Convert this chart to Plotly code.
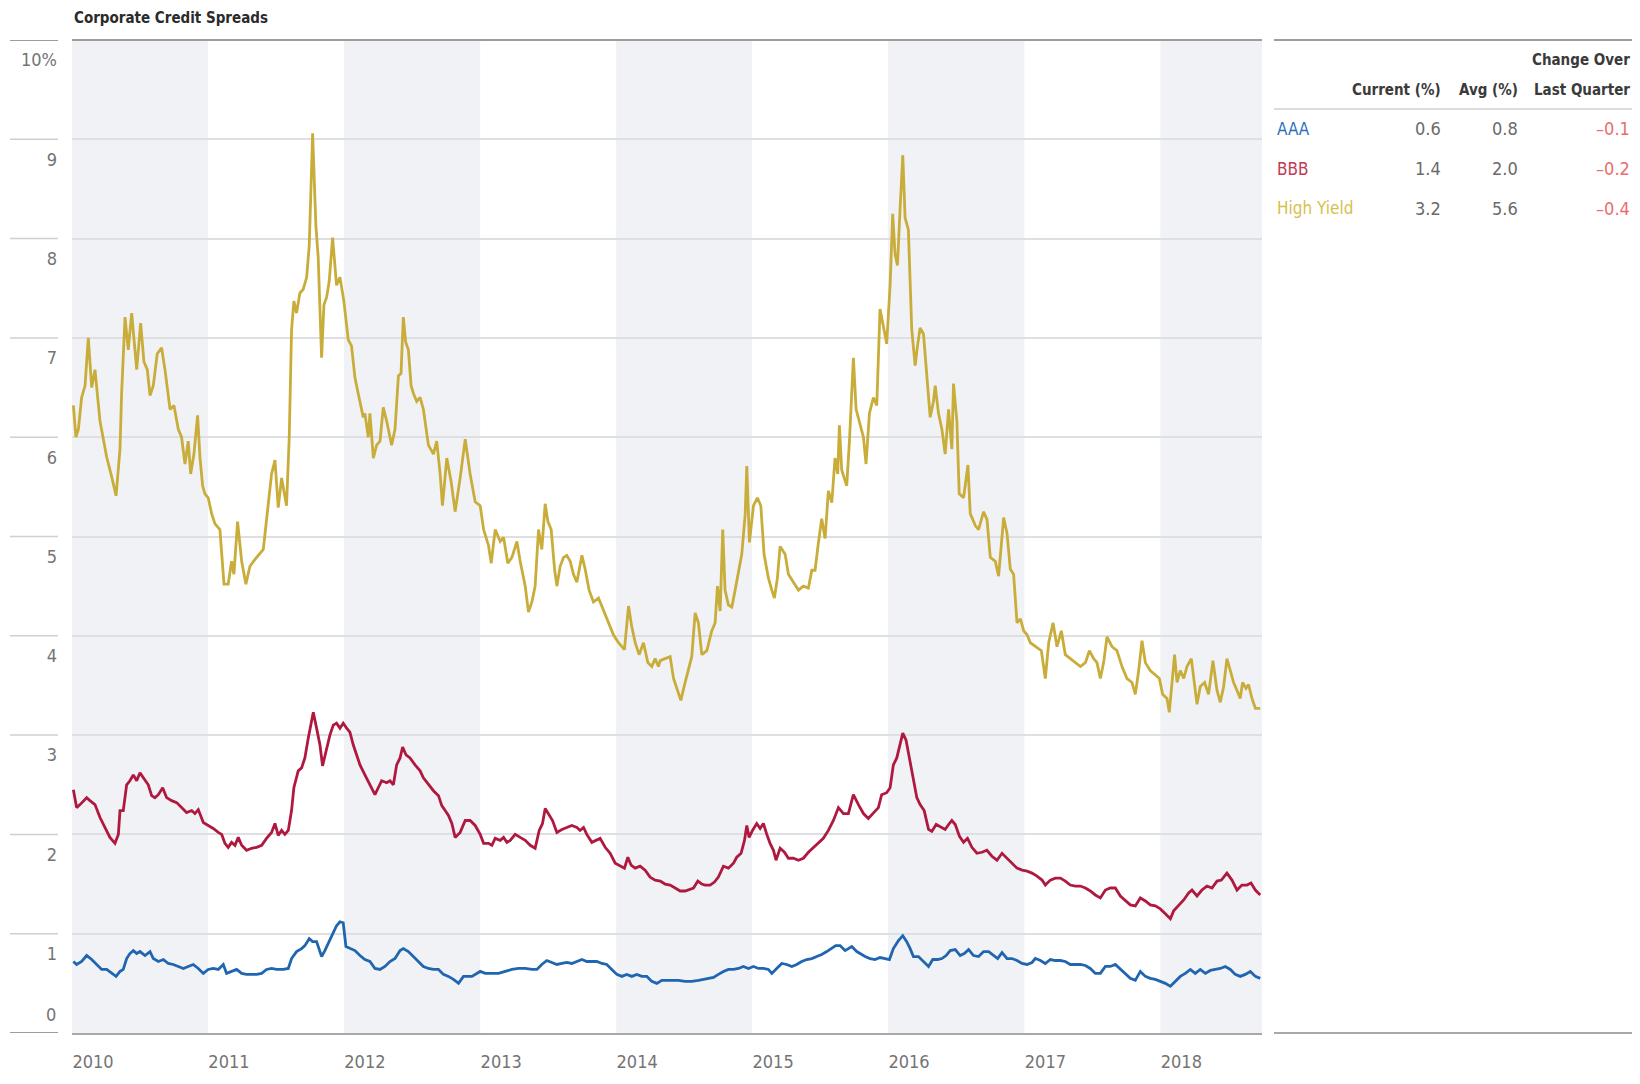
import pandas as pd
import plotly.graph_objects as go

# ---------------- data (decimal years, spread in %) ----------------
hy_years = [
    2010.010, 2010.029, 2010.047, 2010.071, 2010.096, 2010.120, 2010.145, 2010.169, 2010.206, 2010.230,
    2010.255, 2010.292, 2010.324, 2010.353, 2010.365, 2010.390, 2010.414, 2010.439, 2010.456, 2010.476,
    2010.505, 2010.529, 2010.554, 2010.574, 2010.598, 2010.627, 2010.659, 2010.684, 2010.721, 2010.750,
    2010.782, 2010.806, 2010.831, 2010.855, 2010.873, 2010.897, 2010.924, 2010.941, 2010.961, 2010.978,
    2011.002, 2011.027, 2011.051, 2011.088, 2011.118, 2011.149, 2011.174, 2011.191, 2011.218, 2011.248,
    2011.279, 2011.309, 2011.346, 2011.382, 2011.407, 2011.436, 2011.468, 2011.493, 2011.517, 2011.542,
    2011.578, 2011.598, 2011.615, 2011.632, 2011.652, 2011.676, 2011.701, 2011.726, 2011.745, 2011.770,
    2011.794, 2011.811, 2011.836, 2011.853, 2011.873, 2011.892, 2011.917, 2011.946, 2011.971, 2012.000,
    2012.032, 2012.056, 2012.081, 2012.105, 2012.142,
    2012.154, 2012.179, 2012.191, 2012.216, 2012.240, 2012.265, 2012.289, 2012.314, 2012.350, 2012.375,
    2012.400, 2012.419, 2012.436, 2012.453, 2012.473, 2012.493, 2012.510, 2012.534, 2012.559, 2012.583,
    2012.620, 2012.657, 2012.681, 2012.706, 2012.723, 2012.755, 2012.787, 2012.816, 2012.853, 2012.890,
    2012.926, 2012.963, 2013.000, 2013.025, 2013.061, 2013.081, 2013.110, 2013.147, 2013.172, 2013.203,
    2013.233, 2013.270, 2013.294, 2013.331, 2013.355, 2013.380, 2013.404, 2013.429, 2013.453, 2013.478,
    2013.498, 2013.522, 2013.547, 2013.564, 2013.588, 2013.613, 2013.637, 2013.662, 2013.686, 2013.711,
    2013.748, 2013.772, 2013.801, 2013.833, 2013.870, 2013.907, 2013.944, 2013.980, 2014.017, 2014.061,
    2014.091, 2014.115, 2014.140, 2014.169, 2014.201, 2014.233, 2014.262, 2014.287, 2014.311,
    2014.324, 2014.360, 2014.397, 2014.422, 2014.458, 2014.476, 2014.500, 2014.532, 2014.556, 2014.581,
    2014.605, 2014.630, 2014.667, 2014.703, 2014.728, 2014.745, 2014.765, 2014.784, 2014.801, 2014.826,
    2014.851, 2014.875, 2014.900, 2014.924, 2014.949, 2014.961, 2014.980, 2015.010, 2015.039, 2015.064,
    2015.088, 2015.120, 2015.145, 2015.164, 2015.186, 2015.206, 2015.243, 2015.267, 2015.304, 2015.341,
    2015.377, 2015.414, 2015.439, 2015.463, 2015.488, 2015.512, 2015.537, 2015.561, 2015.586, 2015.610,
    2015.630, 2015.642, 2015.659, 2015.696, 2015.716, 2015.745, 2015.765, 2015.794, 2015.819, 2015.838,
    2015.863, 2015.892, 2015.917, 2015.941, 2015.961, 2015.990, 2016.015, 2016.034, 2016.051, 2016.069,
    2016.088, 2016.108, 2016.125, 2016.149, 2016.174, 2016.199, 2016.216, 2016.235, 2016.260, 2016.284,
    2016.309, 2016.333, 2016.346, 2016.370, 2016.395, 2016.419, 2016.444, 2016.468, 2016.480,
    2016.505, 2016.522, 2016.554, 2016.586, 2016.603, 2016.640, 2016.664, 2016.701, 2016.726, 2016.750,
    2016.787, 2016.811, 2016.848, 2016.873, 2016.897, 2016.921, 2016.946, 2016.971, 2016.995, 2017.020,
    2017.044, 2017.081, 2017.125, 2017.154, 2017.179, 2017.211, 2017.240, 2017.272, 2017.301, 2017.338,
    2017.375, 2017.412, 2017.449, 2017.478, 2017.510, 2017.534, 2017.559, 2017.583, 2017.608, 2017.645,
    2017.681, 2017.718, 2017.755, 2017.792, 2017.816, 2017.841, 2017.865, 2017.890, 2017.926, 2017.963,
    2017.993, 2018.017, 2018.049, 2018.066, 2018.086, 2018.105, 2018.123, 2018.147, 2018.172, 2018.196,
    2018.228, 2018.245, 2018.270, 2018.294, 2018.326, 2018.355, 2018.387, 2018.417, 2018.441, 2018.466,
    2018.490, 2018.515, 2018.539, 2018.564, 2018.588, 2018.605, 2018.630, 2018.649, 2018.674, 2018.699,
    2018.735,
]
hy_values = [
    6.32, 6.00, 6.08, 6.40, 6.52, 7.00, 6.50, 6.68, 6.16, 6.00,
    5.80, 5.60, 5.41, 5.88, 6.44, 7.21, 6.88, 7.25, 7.00, 6.68,
    7.15, 6.76, 6.68, 6.42, 6.52, 6.84, 6.90, 6.68, 6.28, 6.32,
    6.08, 6.00, 5.73, 5.96, 5.63, 5.83, 6.22, 5.80, 5.51, 5.43,
    5.39, 5.23, 5.13, 5.07, 4.52, 4.52, 4.75, 4.62, 5.15, 4.75,
    4.52, 4.70, 4.77, 4.83, 4.87, 5.23, 5.63, 5.77, 5.29, 5.59,
    5.31, 6.00, 7.08, 7.37, 7.25, 7.45, 7.49, 7.61, 7.93, 9.06,
    8.13, 7.81, 6.80, 7.33, 7.41, 7.57, 8.01, 7.53, 7.61, 7.37,
    6.98, 6.92, 6.60, 6.44, 6.20,
    6.24, 6.00, 6.24, 5.79, 5.92, 5.96, 6.30, 6.16, 5.92, 6.08,
    6.62, 6.64, 7.21, 6.96, 6.88, 6.52, 6.44, 6.36, 6.40, 6.28,
    5.92, 5.83, 5.96, 5.63, 5.31, 5.79, 5.55, 5.25, 5.59, 5.98,
    5.63, 5.35, 5.31, 5.07, 4.91, 4.73, 5.07, 4.95, 4.99, 4.73,
    4.79, 4.95, 4.75, 4.50, 4.24, 4.34, 4.50, 5.07, 4.87, 5.33,
    5.15, 5.07, 4.67, 4.50, 4.70, 4.79, 4.81, 4.75, 4.62, 4.54,
    4.81, 4.67, 4.46, 4.34, 4.38, 4.26, 4.14, 4.01, 3.93, 3.86,
    4.30, 4.09, 3.93, 3.81, 3.93, 3.73, 3.69, 3.77, 3.69,
    3.75, 3.77, 3.79, 3.57, 3.41, 3.35, 3.49, 3.65, 3.79, 4.23,
    4.13, 3.81, 3.85, 4.05, 4.13, 4.50, 4.25, 5.07, 4.46, 4.31,
    4.29, 4.46, 4.66, 4.82, 5.22, 5.71, 4.94, 5.31, 5.39, 5.31,
    4.82, 4.58, 4.46, 4.38, 4.58, 4.90, 4.82, 4.62, 4.54, 4.46,
    4.50, 4.48, 4.66, 4.66, 4.94, 5.18, 4.98, 5.46, 5.34, 5.79,
    5.63, 6.12, 5.67, 5.51, 5.96, 6.80, 6.28, 6.12, 6.00, 5.73,
    6.24, 6.40, 6.32, 7.29, 7.13, 6.94, 7.53, 8.25, 7.85, 7.73,
    8.29, 8.84, 8.21, 8.09, 7.08, 6.72, 6.92, 7.10, 7.04, 6.60,
    6.20, 6.36, 6.52, 6.24, 6.08, 5.83, 6.28, 5.88, 6.54,
    6.16, 5.43, 5.39, 5.72, 5.23, 5.11, 5.07, 5.25, 5.17, 4.79,
    4.75, 4.60, 5.19, 5.03, 4.67, 4.62, 4.13, 4.17, 4.05, 4.01,
    3.93, 3.89, 3.85, 3.57, 3.93, 4.13, 3.89, 4.05, 3.81, 3.77,
    3.73, 3.69, 3.73, 3.85, 3.77, 3.73, 3.57, 3.73, 3.99, 3.89,
    3.85, 3.69, 3.57, 3.53, 3.41, 3.65, 3.95, 3.73, 3.65, 3.61,
    3.57, 3.41, 3.37, 3.23, 3.53, 3.81, 3.53, 3.65, 3.57, 3.69,
    3.77, 3.57, 3.31, 3.49, 3.53, 3.41, 3.75, 3.45, 3.33, 3.49,
    3.77, 3.65, 3.53, 3.45, 3.37, 3.53, 3.47, 3.51, 3.37, 3.27,
    3.27,
]

bbb_years = [
    2010.010, 2010.034, 2010.059, 2010.083, 2010.108, 2010.132, 2010.169, 2010.206, 2010.243, 2010.279,
    2010.316, 2010.341, 2010.353, 2010.377, 2010.402, 2010.426, 2010.451, 2010.476, 2010.500, 2010.525,
    2010.561, 2010.586, 2010.610, 2010.635, 2010.667, 2010.696, 2010.733, 2010.770, 2010.806, 2010.843,
    2010.880, 2010.904, 2010.929, 2010.966, 2011.002, 2011.039, 2011.076, 2011.101, 2011.125, 2011.149,
    2011.174, 2011.199, 2011.223, 2011.248, 2011.284, 2011.321, 2011.358, 2011.395, 2011.431, 2011.468,
    2011.493, 2011.517, 2011.542, 2011.566, 2011.591, 2011.615, 2011.632, 2011.664, 2011.689, 2011.713,
    2011.738, 2011.755, 2011.775, 2011.799, 2011.824, 2011.843, 2011.868, 2011.897, 2011.922, 2011.946,
    2011.971, 2011.995, 2012.020, 2012.044, 2012.069, 2012.093, 2012.118, 2012.154, 2012.191, 2012.228,
    2012.252, 2012.277, 2012.314, 2012.338, 2012.363, 2012.387, 2012.412, 2012.431, 2012.456, 2012.485,
    2012.522, 2012.559, 2012.583, 2012.620, 2012.657, 2012.694, 2012.718, 2012.743, 2012.767, 2012.792,
    2012.816, 2012.853, 2012.890,
    2012.926, 2012.963, 2013.000, 2013.025, 2013.061, 2013.086, 2013.110, 2013.147, 2013.172, 2013.196,
    2013.221, 2013.257, 2013.294, 2013.331, 2013.368, 2013.404, 2013.434, 2013.458, 2013.478, 2013.502,
    2013.532, 2013.564, 2013.601, 2013.637, 2013.674, 2013.711, 2013.735, 2013.760, 2013.784, 2013.821,
    2013.858, 2013.882, 2013.919, 2013.956, 2013.993, 2014.029, 2014.061, 2014.086, 2014.110, 2014.140,
    2014.176, 2014.213, 2014.250, 2014.287, 2014.324, 2014.360, 2014.397, 2014.434, 2014.471, 2014.507,
    2014.544, 2014.569, 2014.601, 2014.630, 2014.654, 2014.691, 2014.723, 2014.752, 2014.789, 2014.826,
    2014.863, 2014.887, 2014.919, 2014.944, 2014.961, 2014.978, 2015.003, 2015.034, 2015.059, 2015.083,
    2015.108, 2015.132, 2015.157, 2015.176, 2015.206, 2015.238, 2015.267, 2015.304, 2015.341, 2015.377,
    2015.414, 2015.451, 2015.488, 2015.524, 2015.561, 2015.598, 2015.635, 2015.672, 2015.708, 2015.745,
    2015.782,
    2015.819, 2015.855, 2015.892, 2015.929, 2015.953, 2015.990, 2016.015, 2016.039, 2016.064, 2016.088,
    2016.108, 2016.132, 2016.157, 2016.181, 2016.211, 2016.235, 2016.265, 2016.297, 2016.321, 2016.353,
    2016.382, 2016.419, 2016.444, 2016.468, 2016.493, 2016.524, 2016.554, 2016.583, 2016.615, 2016.652,
    2016.689, 2016.725, 2016.762, 2016.799, 2016.836, 2016.873, 2016.909, 2016.946, 2016.983, 2017.020,
    2017.056, 2017.093, 2017.130, 2017.154, 2017.191, 2017.228, 2017.265, 2017.301, 2017.338, 2017.375,
    2017.412, 2017.449, 2017.485, 2017.522, 2017.559, 2017.596, 2017.632, 2017.669, 2017.706, 2017.743,
    2017.779, 2017.816, 2017.853, 2017.890, 2017.926, 2017.963, 2018.000, 2018.037, 2018.074, 2018.098,
    2018.135, 2018.172, 2018.208, 2018.233, 2018.270, 2018.306, 2018.343, 2018.380, 2018.417, 2018.449,
    2018.490, 2018.527, 2018.564, 2018.600, 2018.637, 2018.667, 2018.699, 2018.735,
]
bbb_values = [
    2.45, 2.27, 2.30, 2.34, 2.37, 2.34, 2.30, 2.17, 2.07, 1.97,
    1.91, 2.00, 2.24, 2.24, 2.50, 2.54, 2.60, 2.54, 2.62, 2.57,
    2.50, 2.39, 2.37, 2.40, 2.47, 2.37, 2.34, 2.32, 2.27, 2.22,
    2.24, 2.21, 2.25, 2.12, 2.09, 2.06, 2.02, 2.00, 1.91, 1.87,
    1.92, 1.89, 1.97, 1.89, 1.84, 1.86, 1.87, 1.89, 1.96, 2.02,
    2.11, 1.99, 2.04, 2.00, 2.04, 2.24, 2.47, 2.64, 2.67, 2.77,
    2.97, 3.10, 3.23, 3.07, 2.90, 2.69, 2.83, 3.00, 3.10, 3.12,
    3.07, 3.12, 3.07, 3.03, 2.90, 2.80, 2.70, 2.60, 2.50, 2.40,
    2.47, 2.54, 2.52, 2.54, 2.50, 2.70, 2.77, 2.88, 2.80, 2.77,
    2.70, 2.64, 2.57, 2.50, 2.44, 2.39, 2.29, 2.24, 2.19, 2.11,
    1.97, 2.02, 2.14,
    2.14, 2.09, 2.00, 1.91, 1.91, 1.89, 1.96, 1.94, 1.97, 1.92,
    1.94, 2.00, 1.97, 1.94, 1.89, 1.86, 2.04, 2.11, 2.26, 2.21,
    2.14, 2.02, 2.05, 2.07, 2.09, 2.07, 2.04, 2.07, 2.00, 1.92,
    1.94, 1.96, 1.87, 1.81, 1.71, 1.68, 1.66, 1.77, 1.69, 1.66,
    1.68, 1.64, 1.57, 1.54, 1.53, 1.50, 1.49, 1.46, 1.43, 1.43,
    1.45, 1.46, 1.53, 1.50, 1.49, 1.49, 1.52, 1.57, 1.68, 1.66,
    1.71, 1.77, 1.81, 1.94, 2.09, 1.97, 2.04, 2.11, 2.06, 2.11,
    2.00, 1.91, 1.84, 1.74, 1.86, 1.82, 1.76, 1.76, 1.74, 1.76,
    1.82, 1.87, 1.91, 1.96, 2.04, 2.14, 2.27, 2.21, 2.21, 2.40,
    2.30,
    2.21, 2.16, 2.21, 2.27, 2.40, 2.42, 2.47, 2.70, 2.77, 2.90,
    3.02, 2.95, 2.77, 2.57, 2.37, 2.30, 2.24, 2.05, 2.03, 2.10,
    2.08, 2.05, 2.10, 2.14, 2.10, 1.98, 1.92, 1.96, 1.87, 1.81,
    1.82, 1.84, 1.78, 1.74, 1.81, 1.76, 1.71, 1.66, 1.64, 1.63,
    1.61, 1.58, 1.54, 1.49, 1.54, 1.56, 1.56, 1.53, 1.49, 1.48,
    1.48, 1.46, 1.43, 1.39, 1.36, 1.44, 1.46, 1.46, 1.38, 1.33,
    1.29, 1.28, 1.36, 1.33, 1.29, 1.28, 1.25, 1.20, 1.15, 1.23,
    1.28, 1.34, 1.41, 1.44, 1.38, 1.44, 1.48, 1.46, 1.53, 1.54,
    1.61, 1.54, 1.44, 1.49, 1.49, 1.51, 1.44, 1.39,
]

aaa_years = [
    2010.010, 2010.034, 2010.071, 2010.108, 2010.145, 2010.181, 2010.218, 2010.255, 2010.292, 2010.324,
    2010.353, 2010.377, 2010.402, 2010.426, 2010.451, 2010.476, 2010.500, 2010.537, 2010.574, 2010.598,
    2010.635, 2010.672, 2010.708, 2010.745, 2010.782, 2010.819, 2010.855, 2010.892, 2010.929, 2010.966,
    2011.002, 2011.039, 2011.076, 2011.113, 2011.137, 2011.174, 2011.211, 2011.248, 2011.284, 2011.321,
    2011.358, 2011.395, 2011.431, 2011.468, 2011.505, 2011.554, 2011.591, 2011.615, 2011.652, 2011.689,
    2011.713, 2011.745, 2011.770, 2011.799, 2011.836, 2011.860, 2011.892, 2011.922, 2011.946, 2011.971,
    2011.995, 2012.015, 2012.044, 2012.081, 2012.118, 2012.154, 2012.191, 2012.228, 2012.265, 2012.301,
    2012.338, 2012.375, 2012.412, 2012.436, 2012.473, 2012.510, 2012.547, 2012.583, 2012.620, 2012.657,
    2012.694, 2012.730, 2012.767, 2012.804, 2012.841, 2012.877,
    2012.939, 2013.000, 2013.037, 2013.086, 2013.135, 2013.184, 2013.233, 2013.282, 2013.331, 2013.380,
    2013.417, 2013.453, 2013.490, 2013.527, 2013.564, 2013.601, 2013.637, 2013.674, 2013.711, 2013.748,
    2013.784, 2013.821, 2013.858, 2013.895, 2013.931, 2013.968, 2014.005, 2014.042, 2014.078, 2014.115,
    2014.152, 2014.189, 2014.226, 2014.262, 2014.299, 2014.336, 2014.373, 2014.409, 2014.458, 2014.507,
    2014.556, 2014.605, 2014.642, 2014.679, 2014.716, 2014.752, 2014.789, 2014.826, 2014.863, 2014.900,
    2014.936, 2014.973, 2015.010, 2015.047, 2015.083, 2015.120, 2015.145, 2015.181, 2015.218, 2015.255,
    2015.292, 2015.328, 2015.365, 2015.402, 2015.439, 2015.476, 2015.512, 2015.549, 2015.586, 2015.615,
    2015.647, 2015.684, 2015.733, 2015.770,
    2015.831, 2015.868, 2015.904, 2015.941, 2015.978, 2016.010, 2016.039, 2016.076, 2016.108, 2016.137,
    2016.162, 2016.186, 2016.223, 2016.260, 2016.297, 2016.328, 2016.363, 2016.395, 2016.426, 2016.456,
    2016.493, 2016.529, 2016.559, 2016.591, 2016.627, 2016.664, 2016.701, 2016.738, 2016.774, 2016.804,
    2016.836, 2016.873, 2016.909, 2016.946, 2016.983, 2017.020, 2017.056, 2017.081, 2017.118, 2017.154,
    2017.191, 2017.228, 2017.265, 2017.301, 2017.338, 2017.375, 2017.412, 2017.449, 2017.485, 2017.522,
    2017.559, 2017.596, 2017.632, 2017.669, 2017.706, 2017.743, 2017.779, 2017.816, 2017.853, 2017.890,
    2017.926, 2017.963, 2018.000, 2018.037, 2018.074, 2018.110, 2018.147, 2018.184, 2018.221, 2018.257,
    2018.294, 2018.331, 2018.368, 2018.404, 2018.441, 2018.478, 2018.515, 2018.551, 2018.588, 2018.625,
    2018.662, 2018.699, 2018.735,
]
aaa_values = [
    0.72, 0.69, 0.72, 0.78, 0.74, 0.69, 0.64, 0.64, 0.60, 0.57,
    0.62, 0.64, 0.75, 0.80, 0.83, 0.80, 0.82, 0.78, 0.82, 0.75,
    0.72, 0.74, 0.70, 0.69, 0.67, 0.65, 0.67, 0.69, 0.65, 0.60,
    0.64, 0.65, 0.64, 0.69, 0.60, 0.62, 0.64, 0.60, 0.59, 0.59,
    0.59, 0.60, 0.64, 0.65, 0.64, 0.64, 0.65, 0.75, 0.82, 0.85,
    0.88, 0.95, 0.92, 0.92, 0.77, 0.83, 0.92, 1.00, 1.08, 1.12,
    1.11, 0.87, 0.85, 0.83, 0.78, 0.74, 0.72, 0.65, 0.64, 0.67,
    0.72, 0.75, 0.83, 0.85, 0.82, 0.77, 0.72, 0.67, 0.65, 0.64,
    0.64, 0.59, 0.57, 0.54, 0.50, 0.57,
    0.57, 0.62, 0.60, 0.60, 0.60, 0.62, 0.64, 0.65, 0.65, 0.64,
    0.64, 0.69, 0.73, 0.71, 0.69, 0.70, 0.71, 0.70, 0.72, 0.74,
    0.72, 0.72, 0.72, 0.70, 0.69, 0.64, 0.59, 0.57, 0.59, 0.57,
    0.59, 0.57, 0.57, 0.52, 0.50, 0.53, 0.53, 0.53, 0.53, 0.52,
    0.52, 0.53, 0.54, 0.55, 0.56, 0.59, 0.62, 0.64, 0.64, 0.65,
    0.67, 0.65, 0.67, 0.65, 0.65, 0.64, 0.60, 0.65, 0.70, 0.69,
    0.67, 0.69, 0.72, 0.74, 0.75, 0.77, 0.79, 0.82, 0.85, 0.88,
    0.88, 0.83, 0.87, 0.82,
    0.77, 0.75, 0.74, 0.76, 0.75, 0.74, 0.85, 0.93, 0.98, 0.92,
    0.85, 0.77, 0.77, 0.72, 0.67, 0.74, 0.74, 0.75, 0.78, 0.83,
    0.84, 0.78, 0.80, 0.84, 0.78, 0.77, 0.82, 0.82, 0.78, 0.75,
    0.81, 0.75, 0.75, 0.73, 0.70, 0.69, 0.71, 0.75, 0.73, 0.70,
    0.74, 0.73, 0.73, 0.72, 0.69, 0.69, 0.69, 0.68, 0.65, 0.60,
    0.60, 0.67, 0.67, 0.69, 0.64, 0.59, 0.55, 0.53, 0.62, 0.57,
    0.55, 0.54, 0.52, 0.50, 0.47, 0.52, 0.57, 0.60, 0.64, 0.60,
    0.64, 0.60, 0.63, 0.64, 0.65, 0.67, 0.64, 0.59, 0.57, 0.59,
    0.62, 0.57, 0.55,
]

# table beside the chart
table_names = ["AAA", "BBB", "High Yield"]
table_current = [0.6, 1.4, 3.2]
table_avg = [0.8, 2.0, 5.6]
table_change = [-0.1, -0.2, -0.4]

year_ticks = [2010, 2011, 2012, 2013, 2014, 2015, 2016, 2017, 2018]
shaded_years = [2010, 2012, 2014, 2016, 2018]
y_ticks = [1, 2, 3, 4, 5, 6, 7, 8, 9, 10]
y_ticktext = ["1", "2", "3", "4", "5", "6", "7", "8", "9", "10%"]
x_start, x_end = "2010-01-01", "2018-10-01"

# ---------------- styling ----------------
FONT = "Liberation Sans Narrow, Arial Narrow, DejaVu Sans Condensed, sans-serif"
C_AAA, C_BBB, C_HY = "#1f65b0", "#b0193f", "#c9ad3a"
C_AAA_T, C_BBB_T, C_HY_T = "#2e6fba", "#c23a52", "#d6bf4e"
BAND = "#f1f2f6"
GRID = "#dedfe2"
DARK_LINE = "#9c9c9c"
TICK_COL = "#747474"

W, H = 1640, 1084
L, R, T, B = 72, 1262, 40, 1049


def px_x(p):
    return (p - L) / (R - L)


def px_y(q):
    return (B - q) / (B - T)


def to_date(y):
    yi = int(y)
    start = pd.Timestamp(yi, 1, 1)
    end = pd.Timestamp(yi + 1, 1, 1)
    return start + (end - start) * (y - yi)


fig = go.Figure()
for name, yrs, vals, col in [
    ("AAA", aaa_years, aaa_values, C_AAA),
    ("BBB", bbb_years, bbb_values, C_BBB),
    ("High Yield", hy_years, hy_values, C_HY),
]:
    fig.add_trace(go.Scatter(
        x=[to_date(y) for y in yrs], y=vals, mode="lines", name=name,
        line=dict(color=col, width=2.8), showlegend=False,
    ))

shapes = []
for yr in shaded_years:
    x1 = f"{yr + 1}-01-01" if yr + 1 <= 2018 else x_end
    shapes.append(dict(type="rect", xref="x", yref="paper", x0=f"{yr}-01-01", x1=x1,
                       y0=0, y1=1, fillcolor=BAND, line=dict(width=0), layer="below"))
# top rule of plot
shapes.append(dict(type="line", xref="paper", yref="paper", x0=0, x1=1, y0=1, y1=1,
                   line=dict(color=DARK_LINE, width=2)))
# short rules in the label column
for v in range(0, 11):
    dark = v in (0, 10)
    shapes.append(dict(type="line", xref="paper", yref="y", x0=px_x(10), x1=px_x(58), y0=v, y1=v,
                       line=dict(color=DARK_LINE if dark else "#cfd0d3", width=2 if dark else 1.5)))
# table rules
shapes.append(dict(type="line", xref="paper", yref="paper", x0=px_x(1274), x1=px_x(1632),
                   y0=1, y1=1, line=dict(color=DARK_LINE, width=2)))
shapes.append(dict(type="line", xref="paper", yref="paper", x0=px_x(1274), x1=px_x(1632),
                   y0=px_y(110), y1=px_y(110), line=dict(color="#cfd0d3", width=1.5)))
shapes.append(dict(type="line", xref="paper", yref="paper", x0=px_x(1274), x1=px_x(1632),
                   y0=0, y1=0, line=dict(color="#a8a8a8", width=2)))

ann = []
ann.append(dict(text="<b>Corporate Credit Spreads</b>", xref="paper", yref="paper", x=0, y=1,
                xanchor="left", yanchor="middle", yshift=22, showarrow=False,
                font=dict(family=FONT, size=15, color="#2b2b2b")))
ann.append(dict(text="0", xref="paper", yref="y", x=px_x(58), y=0, xanchor="right",
                yanchor="middle", yshift=19, showarrow=False,
                font=dict(family=FONT, size=18, color=TICK_COL)))

HDR = dict(family=FONT, size=15, color="#3a3a3a")
col_x = {"cur": px_x(1443), "avg": px_x(1520), "chg": px_x(1632)}
ann.append(dict(text="<b>Change Over</b>", xref="paper", yref="paper", x=col_x["chg"], y=px_y(60),
                xanchor="right", yanchor="middle", showarrow=False, font=HDR))
for key, label in [("cur", "Current (%)"), ("avg", "Avg (%)"), ("chg", "Last Quarter")]:
    ann.append(dict(text=f"<b>{label}</b>", xref="paper", yref="paper", x=col_x[key], y=px_y(91),
                    xanchor="right", yanchor="middle", showarrow=False, font=HDR))

row_y = [px_y(130), px_y(171), px_y(211)]
name_cols = [C_AAA_T, C_BBB_T, C_HY_T]
for i, nm in enumerate(table_names):
    ann.append(dict(text=nm, xref="paper", yref="paper", x=px_x(1275), y=row_y[i], xanchor="left",
                    yanchor="middle", showarrow=False,
                    font=dict(family=FONT, size=17, color=name_cols[i])))
    ann.append(dict(text=f"{table_current[i]:.1f}", xref="paper", yref="paper", x=col_x["cur"],
                    y=row_y[i], xanchor="right", yanchor="middle", showarrow=False,
                    font=dict(family=FONT, size=18, color="#6a6a6a")))
    ann.append(dict(text=f"{table_avg[i]:.1f}", xref="paper", yref="paper", x=col_x["avg"],
                    y=row_y[i], xanchor="right", yanchor="middle", showarrow=False,
                    font=dict(family=FONT, size=18, color="#6a6a6a")))
    chg = f"{table_change[i]:.1f}".replace("-", "\u2013")
    ann.append(dict(text=chg, xref="paper", yref="paper", x=col_x["chg"],
                    y=row_y[i], xanchor="right", yanchor="middle", showarrow=False,
                    font=dict(family=FONT, size=18, color="#ea6d6d")))

fig.update_layout(
    width=W, height=H,
    margin=dict(l=L, r=W - R, t=T, b=H - B, pad=0),
    paper_bgcolor="white", plot_bgcolor="white",
    shapes=shapes, annotations=ann, showlegend=False,
    font=dict(family=FONT),
    xaxis=dict(
        type="date", range=[x_start, x_end],
        tickvals=[f"{y}-01-01" for y in year_ticks], ticktext=[str(y) for y in year_ticks],
        ticklabelshift=21, ticklabelstandoff=11, ticks="",
        showgrid=False, zeroline=False,
        showline=True, linecolor="#a8a8a8", linewidth=2,
        tickfont=dict(family=FONT, size=18, color=TICK_COL),
    ),
    yaxis=dict(
        range=[0, 10], tickvals=y_ticks, ticktext=y_ticktext,
        ticklabelshift=20, ticklabelstandoff=14, ticks="",
        showgrid=True, gridcolor=GRID, gridwidth=1.5, zeroline=False, showline=False,
        tickfont=dict(family=FONT, size=18, color=TICK_COL),
    ),
)

fig.write_html("out.html", config={"displayModeBar": False},
               post_script="document.body.style.margin='0';")
